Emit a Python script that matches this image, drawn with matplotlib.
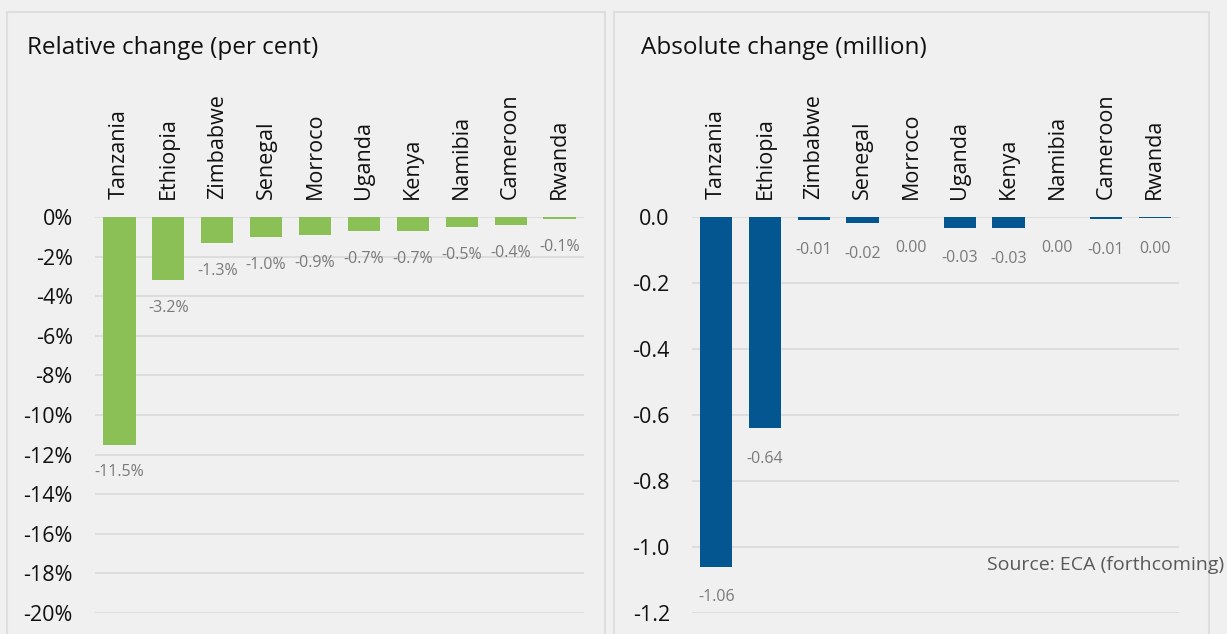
import matplotlib
matplotlib.use("Agg")
import matplotlib.pyplot as plt
from matplotlib.patches import Rectangle

paises = ["Tanzania", "Ethiopia", "Zimbabwe", "Senegal", "Morroco",
          "Uganda", "Kenya", "Namibia", "Cameroon", "Rwanda"]
cambio_rel = [-11.5, -3.2, -1.3, -1.0, -0.9, -0.7, -0.7, -0.5, -0.4, -0.1]
cambio_abs = [-1.06, -0.64, -0.008, -0.019, 0.0, -0.032, -0.034, 0.0, -0.007, -0.004]
ticks_rel = [0, -2, -4, -6, -8, -10, -12, -14, -16, -18, -20]
ticks_abs = [0.0, -0.2, -0.4, -0.6, -0.8, -1.0, -1.2]

fondo = "#f0f0f0"
verde = "#8bc057"
azul = "#03568f"
gris = "#7a7a7a"

plt.rcParams['font.family'] = ['Open Sans', 'DejaVu Sans']

fig = plt.figure(figsize=(12.27, 6.34), dpi=100, facecolor=fondo)

# cajas de los paneles
for x0, x1 in [(7, 605), (614, 1209)]:
    fig.patches.append(Rectangle((x0 / 1227, -0.05), (x1 - x0) / 1227, 1 - 12 / 634 + 0.05,
                                 transform=fig.transFigure, facecolor=fondo,
                                 edgecolor="#dedede", linewidth=1.5, zorder=-5))


def panel(pos, valores, ticks, color, fmt_tick, fmt_label, off, titulo, tx):
    ax = fig.add_axes(pos)
    ax.set_zorder(2)
    ax.set_facecolor("none")
    x = list(range(len(paises)))
    ax.bar(x, valores, width=0.66, color=color, zorder=3)
    ax.set_xlim(-0.5, len(paises) - 0.5)
    ax.set_ylim(ticks[-1], 0)
    ax.set_yticks(ticks)
    ax.set_yticklabels([fmt_tick(t) for t in ticks], fontsize=15.5, color="#111111")
    ax.yaxis.grid(True, color="#dcdcdc", linewidth=1.3, zorder=0)
    ax.set_axisbelow(True)
    ax.xaxis.tick_top()
    ax.set_xticks(x)
    ax.set_xticklabels(paises, rotation=90, fontsize=15.5, va="bottom", color="#111111")
    ax.tick_params(axis="both", length=0)
    ax.tick_params(axis="x", pad=13)
    ax.tick_params(axis="y", pad=16)
    for s in ax.spines.values():
        s.set_visible(False)
    for xi, v in zip(x, valores):
        ax.annotate(fmt_label(v), (xi, v), xytext=(0, off), textcoords="offset points",
                    ha="center", va="center", fontsize=11.5, color=gris)
    fig.text(tx / 1227, 1 - 48 / 634, titulo, fontsize=17.5, va="center", ha="left",
             color="#111111")
    return ax


def lab_abs(v):
    s = "%.2f" % v
    if s == "-0.00":
        s = "0.00"
    return s


panel([95 / 1227, 1 - 613 / 634, 489 / 1227, 396 / 634], cambio_rel, ticks_rel, verde,
      lambda t: "%d%%" % t, lambda v: "%.1f%%" % v, -20, "Relative change (per cent)", 27)
panel([692 / 1227, 1 - 613 / 634, 487 / 1227, 396 / 634], cambio_abs, ticks_abs, azul,
      lambda t: "%.1f" % t, lab_abs, -22, "Absolute change (million)", 641)

fig.text(1224 / 1227, 1 - 565 / 634, "Source: ECA (forthcoming)", fontsize=14,
         color="#595959", ha="right", va="center")

fig.savefig("out.png", dpi=100, facecolor=fondo)
